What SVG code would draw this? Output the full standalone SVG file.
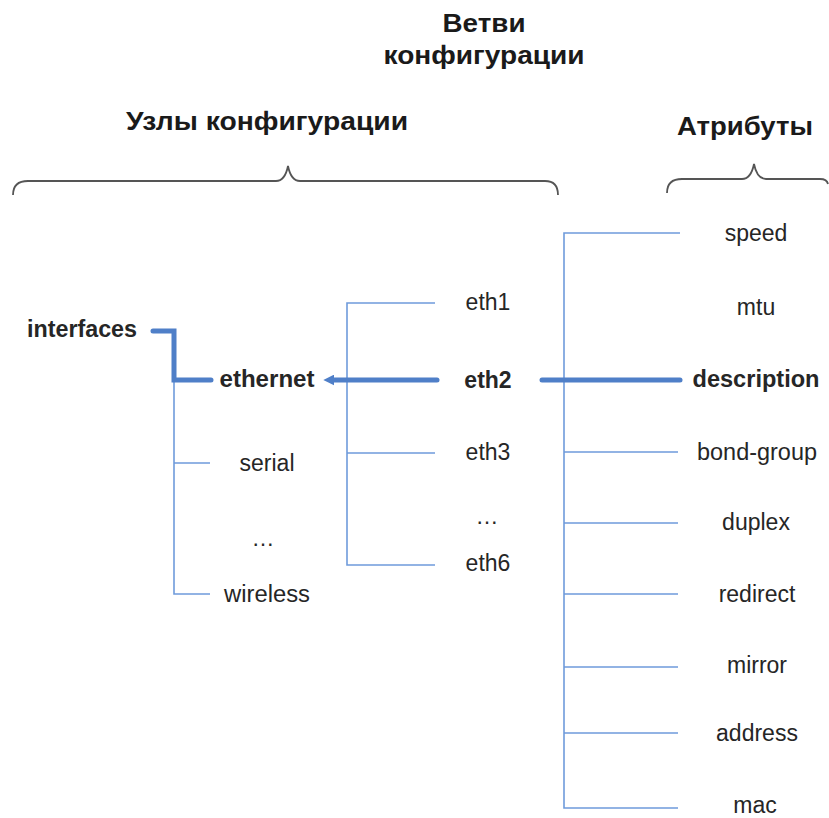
<svg xmlns="http://www.w3.org/2000/svg" width="829" height="818" viewBox="0 0 829 818">
<defs>
<style>
text{font-family:"Liberation Sans",Arial,sans-serif;font-size:23px;fill:#262626;text-anchor:middle}
.b{font-weight:bold}
.h{font-weight:bold;font-size:26px;fill:#1a1a1a}
.thin{stroke:#6f9bdb;stroke-width:1.6;fill:none}
.thick{stroke:#4f7fc8;stroke-width:5;fill:none;stroke-linecap:round;stroke-linejoin:miter}
.brace{stroke:#555;stroke-width:1.8;fill:none}
</style>
<marker id="ah" viewBox="0 0 10 10" refX="3" refY="5" markerWidth="2.2" markerHeight="2.2" orient="auto-start-reverse">
<path d="M0,0 L10,5 L0,10 z" fill="#4f7fc8"/>
</marker>
</defs>
<rect width="829" height="818" fill="#fff"/>
<g id="headings">
<text class="h" x="484" y="32" textLength="83" lengthAdjust="spacingAndGlyphs">Ветви</text>
<text class="h" x="484" y="64" textLength="201" lengthAdjust="spacingAndGlyphs">конфигурации</text>
<text class="h" x="267" y="130" textLength="282" lengthAdjust="spacingAndGlyphs">Узлы конфигурации</text>
<text class="h" x="745" y="135" textLength="136" lengthAdjust="spacingAndGlyphs">Атрибуты</text>
<path class="brace" d="M13,195 Q13,181 28,181 L276,181 Q285,181 288,166 Q291,181 300,181 L545,181 Q558,181 558,195"/>
<path class="brace" d="M667,193 Q667,179 682,179 L742,179 Q751,179 754,164 Q757,179 766,179 L820,179 Q827,179 828,184"/>
</g>
<g id="connectors">
<path class="thin" d="M174,380 V594 H210 M174,463 H210"/>
<path class="thin" d="M435,303 H347 V565 H435 M347,453 H435"/>
<path class="thin" d="M680,233 H564 V808 H678 M564,452 H678 M564,523 H678 M564,594 H678 M564,667 H678 M564,733 H678"/>
<path class="thick" d="M153,331 H174 V380 H211"/>
<path class="thick" d="M437,380 H331" marker-end="url(#ah)"/>
<path class="thick" d="M542,380 H680"/>
</g>
<g id="n-interfaces"><text class="b" x="82" y="337" textLength="110" lengthAdjust="spacingAndGlyphs">interfaces</text></g>
<g id="n-ethernet"><text class="b" x="267" y="387" textLength="95" lengthAdjust="spacingAndGlyphs">ethernet</text></g>
<g id="n-serial"><text x="267" y="471" textLength="55" lengthAdjust="spacingAndGlyphs">serial</text></g>
<g id="n-dots1"><text x="263" y="546">…</text></g>
<g id="n-wireless"><text x="267" y="602" textLength="86" lengthAdjust="spacingAndGlyphs">wireless</text></g>
<g id="n-eth1"><text x="488" y="310">eth1</text></g>
<g id="n-eth2"><text class="b" x="488" y="388">eth2</text></g>
<g id="n-eth3"><text x="488" y="460">eth3</text></g>
<g id="n-dots2"><text x="487" y="524">…</text></g>
<g id="n-eth6"><text x="488" y="571">eth6</text></g>
<g id="a-speed"><text x="756" y="241">speed</text></g>
<g id="a-mtu"><text x="756" y="315">mtu</text></g>
<g id="a-description"><text class="b" x="756" y="387" textLength="127" lengthAdjust="spacingAndGlyphs">description</text></g>
<g id="a-bond-group"><text x="757" y="460" textLength="120" lengthAdjust="spacingAndGlyphs">bond-group</text></g>
<g id="a-duplex"><text x="756" y="530">duplex</text></g>
<g id="a-redirect"><text x="757" y="602">redirect</text></g>
<g id="a-mirror"><text x="757" y="673">mirror</text></g>
<g id="a-address"><text x="757" y="741">address</text></g>
<g id="a-mac"><text x="755" y="813">mac</text></g>
</svg>
